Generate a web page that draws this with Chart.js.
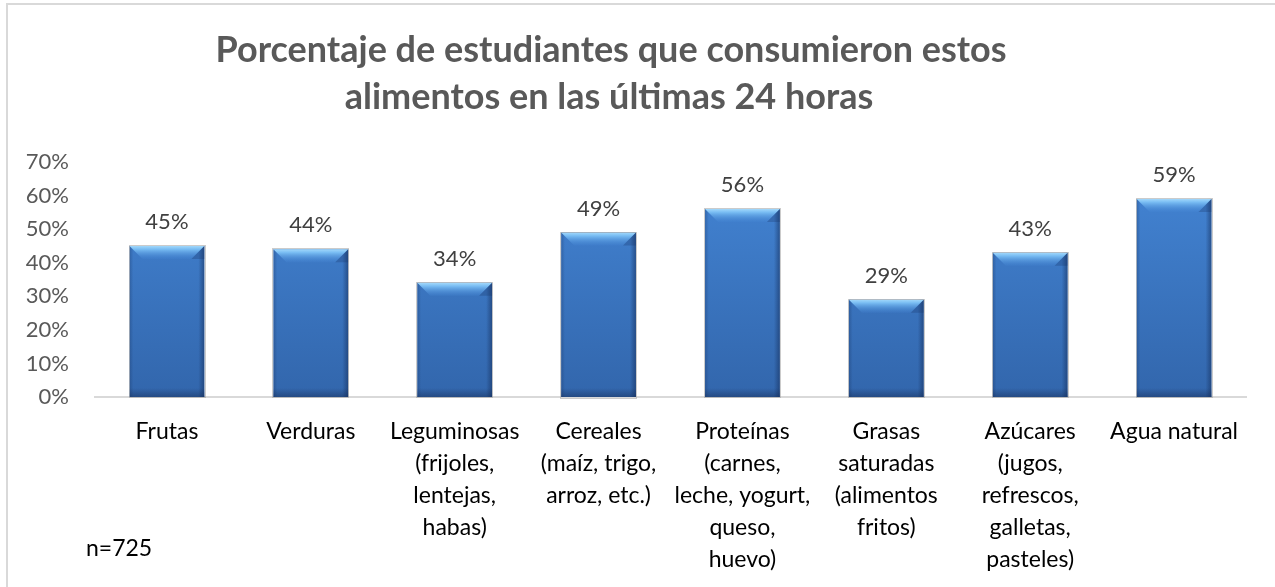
<!DOCTYPE html>
<html>
<head>
<meta charset="utf-8">
<script src="https://cdn.jsdelivr.net/npm/chart.js@4.4.1/dist/chart.umd.min.js"></script>
<style>
  html, body { margin: 0; padding: 0; background: #ffffff; }
  #wrap { position: relative; width: 1275px; height: 587px; overflow: hidden; }
  #frame { position: absolute; left: 6px; top: 3px; width: 1300px; height: 700px; border-top: 2px solid #d9d9d9; border-left: 2px solid #d9d9d9; box-sizing: border-box; }
  canvas { position: absolute; left: 0; top: 0; }
</style>
</head>
<body>
<div id="wrap">
  <div id="frame"></div>
  <canvas id="c" width="1275" height="587"></canvas>
</div>
<script>
const titleLines = ["Porcentaje de estudiantes que consumieron estos", "alimentos en las últimas 24 horas"];
const categories = [
  ["Frutas"],
  ["Verduras"],
  ["Leguminosas", "(frijoles,", "lentejas,", "habas)"],
  ["Cereales", "(maíz, trigo,", "arroz, etc.)"],
  ["Proteínas", "(carnes,", "leche, yogurt,", "queso,", "huevo)"],
  ["Grasas", "saturadas", "(alimentos", "fritos)"],
  ["Azúcares", "(jugos,", "refrescos,", "galletas,", "pasteles)"],
  ["Agua natural"]
];
const values = [45, 44, 34, 49, 56, 29, 43, 59];
const yTicks = [0, 10, 20, 30, 40, 50, 60, 70];
const noteText = "n=725";

const FONT = "Lato, 'Liberation Sans', sans-serif";

function bodyGradient(ctx, area) {
  const g = ctx.createLinearGradient(0, area.top, 0, area.bottom);
  g.addColorStop(0, "#4486d6");
  g.addColorStop(1, "#3266ac");
  return g;
}

const overlayPlugin = {
  id: "overlay",
  afterDatasetsDraw(chart) {
    const ctx = chart.ctx;
    const meta = chart.getDatasetMeta(0);
    meta.data.forEach((bar, i) => {
      const p = bar.getProps(["x", "y", "base", "width"], true);
      const L = p.x - p.width / 2, R = p.x + p.width / 2, T = p.y, B = p.base;
      const b = 13;
      ctx.save();
      // side shading
      let g = ctx.createLinearGradient(L, 0, R, 0);
      g.addColorStop(0, "rgba(20,45,90,0.30)");
      g.addColorStop(0.05, "rgba(20,45,90,0.0)");
      g.addColorStop(0.92, "rgba(20,45,90,0.0)");
      g.addColorStop(1, "rgba(20,45,90,0.55)");
      ctx.fillStyle = g;
      ctx.fillRect(L, T, R - L, B - T);
      // bottom shading
      g = ctx.createLinearGradient(0, B - 9, 0, B);
      g.addColorStop(0, "rgba(20,40,80,0)");
      g.addColorStop(1, "rgba(20,40,80,0.45)");
      ctx.fillStyle = g;
      ctx.fillRect(L, B - 9, R - L, 9);
      // top bevel
      g = ctx.createLinearGradient(0, T, 0, T + b);
      g.addColorStop(0, "#a2d8fb");
      g.addColorStop(0.25, "#79bdf3");
      g.addColorStop(1, "rgba(70,136,214,0.2)");
      ctx.fillStyle = g;
      ctx.beginPath();
      ctx.moveTo(L, T);
      ctx.lineTo(R, T);
      ctx.lineTo(R - b, T + b);
      ctx.lineTo(L + b, T + b);
      ctx.closePath();
      ctx.fill();
      // right corner shading
      ctx.fillStyle = "rgba(20,45,90,0.25)";
      ctx.beginPath();
      ctx.moveTo(R, T);
      ctx.lineTo(R - b, T + b);
      ctx.lineTo(R - 5, T + b);
      ctx.lineTo(R, T + b);
      ctx.closePath();
      ctx.fill();
      // outline
      ctx.strokeStyle = "rgba(160,160,160,0.55)";
      ctx.lineWidth = 1;
      ctx.strokeRect(Math.round(L) - 0.5, Math.round(T) - 0.5, Math.round(R - L) + 1, Math.round(B - T) + 1);
      ctx.restore();
      // data label
      ctx.save();
      ctx.fillStyle = "#404040";
      ctx.font = "22px " + FONT;
      ctx.textAlign = "center";
      ctx.textBaseline = "middle";
      ctx.fillText(values[i] + "%", p.x, T - 24);
      ctx.restore();
    });
  },
  afterDraw(chart) {
    const ctx = chart.ctx;
    ctx.save();
    ctx.fillStyle = "#595959";
    ctx.font = "bold 36px " + FONT;
    ctx.textAlign = "center";
    ctx.textBaseline = "alphabetic";
    ctx.fillText(titleLines[0], 611, 62);
    ctx.fillText(titleLines[1], 609, 109);
    ctx.fillStyle = "#000000";
    ctx.font = "23px " + FONT;
    ctx.textAlign = "left";
    ctx.textBaseline = "middle";
    ctx.fillText(noteText, 86, 549);
    ctx.restore();
  }
};

new Chart(document.getElementById("c"), {
  type: "bar",
  data: {
    labels: categories,
    datasets: [{
      data: values,
      backgroundColor: (c) => {
        const a = c.chart.chartArea;
        if (!a) return "#3e7bc6";
        return bodyGradient(c.chart.ctx, a);
      },
      borderWidth: 0,
      categoryPercentage: 1,
      barPercentage: 0.52
    }]
  },
  options: {
    responsive: false,
    animation: false,
    devicePixelRatio: 1,
    layout: { padding: { top: 162, left: 0, right: 29, bottom: 0 } },
    plugins: { legend: { display: false }, title: { display: false }, tooltip: { enabled: false } },
    scales: {
      x: {
        grid: { display: false, drawTicks: false, tickLength: 0 },
        border: { display: true, color: "#d9d9d9", width: 2 },
        ticks: {
          color: "#000000",
          font: { family: FONT, size: 23, lineHeight: "32px" },
          padding: 19,
          maxRotation: 0,
          autoSkip: false
        },
        afterFit: (s) => { s.height = 190; }
      },
      y: {
        min: 0, max: 70,
        grid: { display: false, drawTicks: false, tickLength: 0 },
        border: { display: false },
        ticks: {
          stepSize: 10,
          color: "#595959",
          font: { family: FONT, size: 22 },
          padding: 26,
          callback: (v) => yTicks.includes(v) ? v + "%" : ""
        },
        afterFit: (s) => { s.width = 95; }
      }
    }
  },
  plugins: [overlayPlugin]
});
</script>
</body>
</html>
